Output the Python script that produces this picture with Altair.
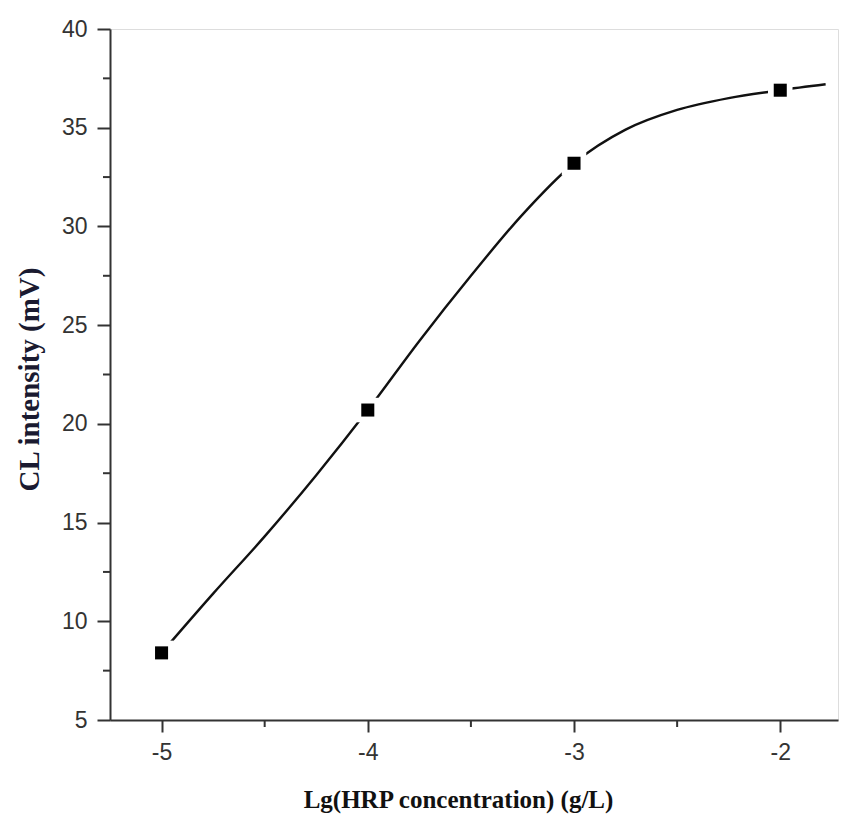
import altair as alt
import pandas as pd

# measured points
conc = [-5, -4, -3, -2]
intensity = [8.4, 20.7, 33.2, 36.9]

# smooth fitted curve
curve_x = [-5.0, -4.75, -4.5, -4.25, -4.0, -3.75, -3.5, -3.25, -3.0, -2.75, -2.5, -2.25, -2.0, -1.78]
curve_y = [8.4, 11.4, 14.3, 17.4, 20.7, 24.2, 27.5, 30.6, 33.2, 34.9, 35.9, 36.5, 36.9, 37.2]

x_major = [-5, -4, -3, -2]
x_minor = [-4.5, -3.5, -2.5]
y_major = [5, 10, 15, 20, 25, 30, 35, 40]
y_minor = [7.5, 12.5, 17.5, 22.5, 27.5, 32.5, 37.5]

W, H = 728, 691

pts = pd.DataFrame({"x": conc, "y": intensity})
crv = pd.DataFrame({"x": curve_x, "y": curve_y})
xmin = pd.DataFrame({"x": x_minor})
ymin = pd.DataFrame({"y": y_minor})

xscale = alt.Scale(domain=[-5.25, -1.72], nice=False, zero=False)
yscale = alt.Scale(domain=[5, 40], nice=False, zero=False)

AX = "#333333"

xaxis = alt.Axis(
    values=x_major,
    labelExpr="'-' + abs(datum.value)",
    tickSize=12,
    grid=False,
    domainColor=AX, domainWidth=2, tickColor=AX, tickWidth=2,
    labelFont="Liberation Sans", labelFontSize=23, labelColor="#333",
    labelPadding=9,
    title="Lg(HRP concentration) (g/L)",
    titleFont="Liberation Serif", titleFontSize=25, titleFontWeight="bold", titleColor="#111",
    titleX=348, titleY=79, titleBaseline="middle",
)
yaxis = alt.Axis(
    values=y_major,
    tickSize=13,
    grid=False,
    domainColor=AX, domainWidth=2, tickColor=AX, tickWidth=2,
    labelFont="Liberation Sans", labelFontSize=23, labelColor="#333",
    labelPadding=10,
    title="CL intensity (mV)",
    titleFont="Liberation Serif", titleFontSize=29, titleFontWeight="bold", titleColor="#1a1a30",
    titleAngle=-90, titleX=-81, titleY=350, titleBaseline="middle", titleAlign="center",
)

line = alt.Chart(crv).mark_line(interpolate="monotone", color="#111", strokeWidth=2.4).encode(
    x=alt.X("x:Q", scale=xscale, axis=xaxis),
    y=alt.Y("y:Q", scale=yscale, axis=yaxis),
)
halo = alt.Chart(pts).mark_point(shape="square", filled=True, color="white", size=600, opacity=1).encode(
    x=alt.X("x:Q", scale=xscale),
    y=alt.Y("y:Q", scale=yscale),
)
marks = alt.Chart(pts).mark_point(shape="square", filled=True, color="black", size=170, opacity=1).encode(
    x=alt.X("x:Q", scale=xscale),
    y=alt.Y("y:Q", scale=yscale),
)
xminor = alt.Chart(xmin).mark_rule(color=AX, strokeWidth=2).encode(
    x=alt.X("x:Q", scale=xscale),
    y=alt.value(H),
    y2=alt.value(H + 7),
)
yminor = alt.Chart(ymin).mark_rule(color=AX, strokeWidth=2).encode(
    y=alt.Y("y:Q", scale=yscale),
    x=alt.value(0),
    x2=alt.value(-7),
)

chart = (line + halo + marks + xminor + yminor).properties(
    width=W, height=H,
    autosize="none",
    padding={"left": 102, "top": 21, "right": 5, "bottom": 96},
).configure_view(stroke=None).configure(background="white")

chart.save("out.html", embed_options={"renderer": "svg", "actions": False})
